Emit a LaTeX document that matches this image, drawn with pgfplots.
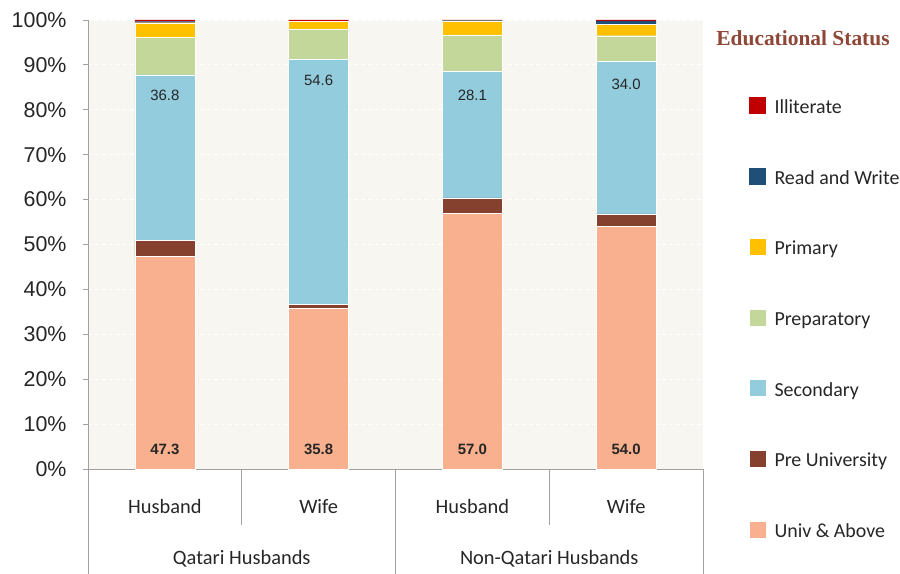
\documentclass[border=0pt]{standalone}
\usepackage{fontspec}
\usepackage{pgfplots}
\pgfplotsset{compat=1.18}
\newfontfamily\arialf{Liberation Sans}
\newfontfamily\carl{Carlito}
\newfontfamily\timesf{Liberation Serif}
\definecolor{cIll}{HTML}{C00000}
\definecolor{cRW}{HTML}{1F4E79}
\definecolor{cPri}{HTML}{FFC000}
\definecolor{cPrep}{HTML}{C4D79B}
\definecolor{cSec}{HTML}{93CDDD}
\definecolor{cPreU}{HTML}{86412E}
\definecolor{cUniv}{HTML}{F8B08E}
\definecolor{bgc}{HTML}{F7F6F1}
\definecolor{axc}{HTML}{A0A0A0}
\definecolor{titc}{HTML}{8E4636}
\definecolor{txt}{HTML}{262626}
\begin{document}
\begin{tikzpicture}[x=1bp,y=1bp]
\useasboundingbox (0,0) rectangle (900,574);
\pgfplotsset{
  common/.style={
    scale only axis, width=615bp, height=449bp,
    at={(88bp,105bp)}, anchor=south west,
    xmin=-0.5, xmax=3.5, ymin=0, ymax=100,
  }
}
\begin{axis}[common,
  ybar stacked, bar width=60bp,
  axis background/.style={fill=bgc},
  axis x line*=bottom, axis y line*=left,
  axis line style={axc, line width=0.8pt},
  ytick={0,10,...,100},
  yticklabels={0\%,10\%,20\%,30\%,40\%,50\%,60\%,70\%,80\%,90\%,100\%},
  yticklabel style={font=\arialf\fontsize{21.5}{21.5}\selectfont, text=txt, xshift=-13bp},
  ytick style={axc, line width=0.8pt}, tick align=outside, major tick length=5bp,
  xtick={0,1,2,3},
  xticklabels={Husband,Wife,Husband,Wife},
  xticklabel style={font=\carl\fontsize{20.5}{20.5}\selectfont, text=txt, anchor=base, yshift=-40bp},
  xtick style={draw=none},
  ymajorgrids, grid style={white, line width=0.9pt, dash pattern=on 4bp off 3bp},
  clip=false,
  reverse legend,
  legend cell align=left,
  legend image code/.code={\fill[#1] (0bp,-5bp) rectangle (17bp,12bp);},
  legend style={at={(1,1)}, anchor=north west, xshift=43bp, yshift=-75bp,
    draw=none, fill=none, row sep=50bp, column sep=8bp,
    font=\carl\fontsize{20}{20}\selectfont, text=txt,
    nodes={inner sep=0pt, text height=13bp, text depth=4bp}},
]
\addplot[fill=cUniv, draw=white, line width=0.3pt] coordinates {(0,47.3) (1,35.8) (2,57.0) (3,54.0)};
\addlegendentry{Univ \& Above}
\addplot[fill=cPreU, draw=white, line width=0.3pt] coordinates {(0,3.7) (1,0.9) (2,3.4) (3,2.8)};
\addlegendentry{Pre University}
\addplot[fill=cSec, draw=white, line width=0.3pt] coordinates {(0,36.8) (1,54.6) (2,28.1) (3,34.0)};
\addlegendentry{Secondary}
\addplot[fill=cPrep, draw=white, line width=0.3pt] coordinates {(0,8.3) (1,6.7) (2,8.2) (3,5.7)};
\addlegendentry{Preparatory}
\addplot[fill=cPri, draw=white, line width=0.3pt] coordinates {(0,3.3) (1,1.7) (2,3.1) (3,2.5)};
\addlegendentry{Primary}
\addplot[fill=cRW, draw=none] coordinates {(0,0.3) (1,0.0) (2,0.1) (3,0.8)};
\addlegendentry{Read and Write}
\addplot[fill=cIll, draw=none] coordinates {(0,0.3) (1,0.3) (2,0.1) (3,0.2)};
\addlegendentry{Illiterate}
% category separators
\draw[axc, line width=0.8pt] (axis cs:-0.5,0) -- ([yshift=-105bp]axis cs:-0.5,0);
\draw[axc, line width=0.8pt] (axis cs:0.5,0) -- ([yshift=-56bp]axis cs:0.5,0);
\draw[axc, line width=0.8pt] (axis cs:1.5,0) -- ([yshift=-105bp]axis cs:1.5,0);
\draw[axc, line width=0.8pt] (axis cs:2.5,0) -- ([yshift=-56bp]axis cs:2.5,0);
\draw[axc, line width=0.8pt] (axis cs:3.5,0) -- ([yshift=-105bp]axis cs:3.5,0);
\node[font=\carl\fontsize{20.5}{20.5}\selectfont, text=txt, anchor=base] at ([yshift=-96bp]axis cs:0.5,0) {Qatari Husbands};
\node[font=\carl\fontsize{20.5}{20.5}\selectfont, text=txt, anchor=base] at ([yshift=-96bp]axis cs:2.5,0) {Non-Qatari Husbands};
\end{axis}
\begin{axis}[common, hide axis,
  nodes near coords, point meta=explicit symbolic,
  nodes near coords align=center,
]
\addplot[only marks, mark=none, nodes near coords style={font=\arialf\fontsize{15}{15}\selectfont, text=txt, anchor=center}]
  coordinates {(0,83.3) [36.8] (1,86.6) [54.6] (2,83.3) [28.1] (3,85.7) [34.0]};
\addplot[only marks, mark=none, nodes near coords style={font=\arialf\bfseries\fontsize{15}{15}\selectfont, text=txt, anchor=center}]
  coordinates {(0,4.45) [47.3] (1,4.45) [35.8] (2,4.45) [57.0] (3,4.45) [54.0]};
\end{axis}
\node[font=\timesf\bfseries\fontsize{21.5}{21.5}\selectfont, text=titc] at (803,536) {Educational Status};
\end{tikzpicture}
\end{document}
